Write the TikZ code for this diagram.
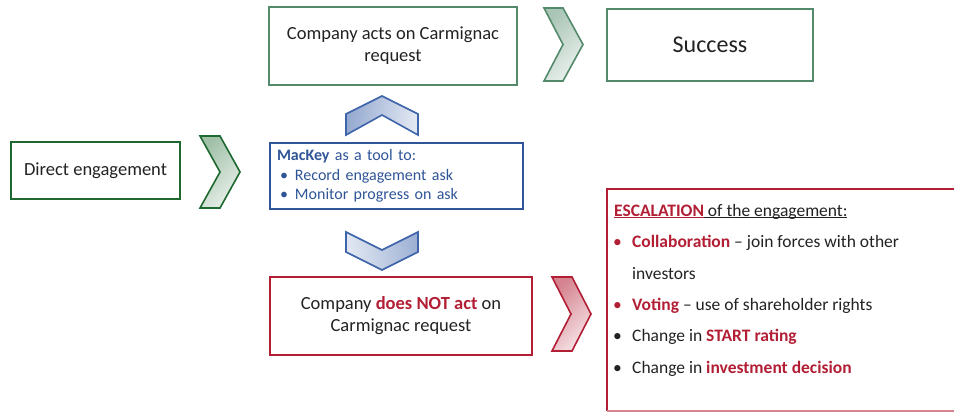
\documentclass[tikz,border=0pt]{standalone}
\usepackage{fontspec}
\setmainfont{Carlito}
\definecolor{txt}{RGB}{34,34,34}
\definecolor{dkgreen}{RGB}{30,105,48}
\definecolor{mdgreen}{RGB}{84,138,108}
\definecolor{blu}{RGB}{47,85,151}
\definecolor{bluch}{RGB}{62,100,170}
\definecolor{rd}{RGB}{178,30,52}
\newcommand\ulx[1]{\setbox0\hbox{#1}\rlap{\rule[-1.6pt]{\wd0}{0.9pt}}\box0}
\newcommand\bul{\makebox[15pt][l]{\textbullet}}
\newcommand\bulE{\makebox[19pt][l]{\textbullet}}
\begin{document}
\begin{tikzpicture}[x=1pt,y=-1pt,
  box/.style={draw, line width=2pt, inner sep=0pt, align=center, text=txt},
  mainfont/.style={font=\fontsize{18.5}{22}\selectfont},
  chevg/.style={draw=dkgreen, line width=1.6pt, line join=miter, left color=dkgreen!42!white, right color=dkgreen!10!white, shading angle=45},
  chevg2/.style={draw=mdgreen, line width=1.6pt, line join=miter, left color=mdgreen!50!white, right color=mdgreen!12!white, shading angle=45},
  chevr/.style={draw=rd, line width=1.6pt, line join=miter, left color=rd!55!white, right color=rd!12!white, shading angle=45},
  chevbu/.style={draw=bluch, line width=1.6pt, line join=miter, left color=bluch!55!white, right color=bluch!15!white, shading angle=80},
  chevbd/.style={draw=bluch, line width=1.6pt, line join=miter, left color=bluch!15!white, right color=bluch!50!white, shading angle=100},
  esc/.style={anchor=base west, inner sep=0pt, text=txt, font=\fontsize{17.5}{21}\selectfont}]
\useasboundingbox (0,0) rectangle (954,412);
\clip (0,0) rectangle (954,412);

% boxes
\node[box, draw=dkgreen, mainfont, minimum width=169pt, minimum height=57pt] (direct) at (95.5,170.5) {Direct engagement};
\node[box, draw=mdgreen, mainfont, minimum width=248pt, minimum height=78pt] (acts) at (393,46) {Company acts on Carmignac\\request};
\node[box, draw=mdgreen, font=\fontsize{24}{28}\selectfont, minimum width=206pt, minimum height=72pt] (success) at (710,45) {Success};
\node[box, draw=blu, text=blu, font=\fontsize{16}{19.5}\selectfont, minimum width=253pt, minimum height=66pt, text width=239pt, inner xsep=7pt, align=left] (mackey) at (396.5,176)
  {\textbf{MacKey} as a tool to:\\\hspace*{3pt}\bul Record engagement ask\\\hspace*{3pt}\bul Monitor progress on ask};
\node[box, draw=rd, mainfont, minimum width=262pt, minimum height=78pt] (notact) at (401,316) {Company \textcolor{rd}{\textbf{does NOT act}} on\\Carmignac request};

% chevrons
\path[chevg] (200,136) -- (220,136) -- (240,172) -- (220,208) -- (200,208) -- (220,172) -- cycle;
\path[chevg2] (544,8) -- (563,8) -- (583,44.5) -- (563,81) -- (544,81) -- (563,44.5) -- cycle;
\path[chevr] (552,277) -- (572,277) -- (591,314) -- (572,351) -- (552,351) -- (571,314) -- cycle;
\path[chevbu] (346,114) -- (382,96) -- (418,114) -- (418,135) -- (382,115) -- (346,135) -- cycle;
\path[chevbd] (346,232) -- (382,250) -- (418,232) -- (418,252) -- (382,270) -- (346,252) -- cycle;

% escalation box
\draw[rd, line width=2pt] (960,189) -- (607,189) -- (607,411);
\draw[rd!55, line width=1.5pt] (607,411) -- (960,411);
\node[esc] (e0) at (614,216) {\textcolor{rd}{\ulx{\textbf{ESCALATION}}}\ulx{ of the engagement:}};
\node[esc] (e1) at (613,247) {\textcolor{rd}{\bulE\textbf{Collaboration}} -- join forces with other};
\node[esc] (e2) at (632,279) {investors};
\node[esc] (e3) at (613,310.7) {\textcolor{rd}{\bulE\textbf{Voting}} -- use of shareholder rights};
\node[esc] (e4) at (613,341.7) {\bulE Change in \textcolor{rd}{\textbf{START rating}}};
\node[esc] (e5) at (613,373.3) {\bulE Change in \textcolor{rd}{\textbf{investment decision}}};
\end{tikzpicture}
\end{document}
